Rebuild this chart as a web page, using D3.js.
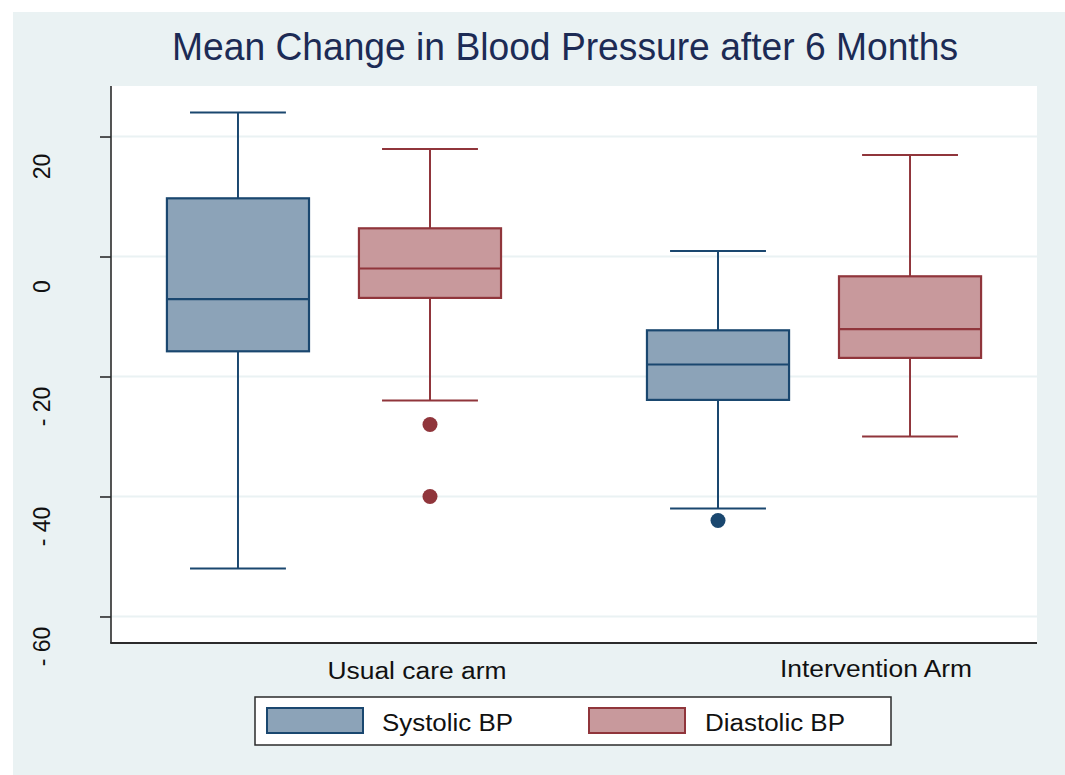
<!DOCTYPE html>
<html>
<head>
<meta charset="utf-8">
<script src="https://cdn.jsdelivr.net/npm/d3@7"></script>
<style>
  html, body { margin: 0; padding: 0; background: #ffffff; }
  svg { display: block; font-family: "Liberation Sans", Arial, Helvetica, sans-serif; }
</style>
</head>
<body>
<svg id="chart" width="1065" height="775"></svg>
<script>
// ---------------- data ----------------
const title = "Mean Change in Blood Pressure after 6 Months";
const categories = ["Usual care arm", "Intervention Arm"];
const seriesNames = ["Systolic BP", "Diastolic BP"];
// five-number summaries per category: [lower whisker, Q1, median, Q3, upper whisker]
const systolicBP = [[-52, -15.8, -7.1, 9.7, 24], [-42, -23.9, -18, -12.3, 0.9]];
const diastolicBP = [[-24, -6.9, -2, 4.7, 17.9], [-30, -16.9, -12.1, -3.3, 16.9]];
const systolicOutliers = [[], [-44]];
const diastolicOutliers = [[-28, -40], []];
const yTicks = [-60, -40, -20, 0, 20];

// ---------------- styling / layout ----------------
const W = 1065, H = 775;
const plot = { left: 111, right: 1037, top: 86, bottom: 643 };
const fills = ["#8ca3b8", "#c8999c"];
const strokes = ["#1a476f", "#90353b"];
const bgColor = "#eaf2f3";
const font = 23;
// category label placement relative to group centre, and target widths (stretched text)
const catLabelOffset = [83, 62];
const catLabelWidth = [179, 192];
const catLabelBaseline = [679, 677];

const svg = d3.select("#chart");

// outer background
svg.append("rect").attr("x", 13).attr("y", 12).attr("width", W - 13).attr("height", H - 12)
  .attr("fill", bgColor);

// plot region
svg.append("rect").attr("x", plot.left).attr("y", plot.top)
  .attr("width", plot.right - plot.left).attr("height", plot.bottom - plot.top)
  .attr("fill", "#ffffff");

// scales
const y = d3.scaleLinear().domain([-64.42, 28.42]).range([plot.bottom, plot.top]);
const x0 = d3.scaleBand().domain(categories).range([plot.left, plot.right])
  .paddingInner(0.304).paddingOuter(0.1165);
const x1 = d3.scaleBand().domain(seriesNames).range([0, x0.bandwidth()])
  .paddingInner(0.26).paddingOuter(0);

// gridlines
svg.append("g").selectAll("line").data(yTicks).join("line")
  .attr("x1", plot.left).attr("x2", plot.right)
  .attr("y1", d => y(d)).attr("y2", d => y(d))
  .attr("stroke", bgColor).attr("stroke-width", 2);

// title
svg.append("text").attr("x", 565).attr("y", 60).attr("text-anchor", "middle")
  .attr("font-size", 38).attr("fill", "#1c2b55")
  .attr("textLength", 786).attr("lengthAdjust", "spacingAndGlyphs")
  .text(title);

// y axis
const yAxis = d3.axisLeft(y).tickValues(yTicks).tickSize(11).tickSizeOuter(0).tickFormat("");
const ga = svg.append("g").attr("transform", `translate(${plot.left},0)`).call(yAxis);
ga.select(".domain").attr("stroke", "#2b2b2b").attr("stroke-width", 1.6)
  .attr("d", `M0,${plot.top}V${plot.bottom}`);
ga.selectAll(".tick line").attr("stroke", "#2b2b2b").attr("stroke-width", 1.6);

// y tick labels (rotated)
svg.append("g").selectAll("text").data(yTicks).join("text")
  .attr("transform", d => `translate(42,${y(d) + 30}) rotate(-90)`)
  .attr("text-anchor", "middle").attr("dominant-baseline", "central")
  .attr("font-size", font).attr("fill", "#111")
  .text(d => d < 0 ? "- " + Math.abs(d) : String(d));

// bottom axis line
svg.append("line").attr("x1", plot.left - 0.8).attr("x2", plot.right)
  .attr("y1", plot.bottom).attr("y2", plot.bottom)
  .attr("stroke", "#2b2b2b").attr("stroke-width", 1.8);

// category labels
svg.append("g").selectAll("text").data(categories).join("text")
  .attr("x", (d, i) => x0(d) + x0.bandwidth() / 2 + catLabelOffset[i])
  .attr("y", (d, i) => catLabelBaseline[i])
  .attr("text-anchor", "middle").attr("font-size", font).attr("fill", "#111")
  .attr("textLength", (d, i) => catLabelWidth[i]).attr("lengthAdjust", "spacingAndGlyphs")
  .text(d => d);

// boxes
const seriesStats = [systolicBP, diastolicBP];
const seriesOut = [systolicOutliers, diastolicOutliers];
const boxes = [];
categories.forEach((c, ci) => {
  seriesNames.forEach((s, si) => {
    boxes.push({ cat: c, series: s, si, stats: seriesStats[si][ci], out: seriesOut[si][ci] });
  });
});

const bw = x1.bandwidth();
const capW = bw * 0.675;
const gBox = svg.append("g");
boxes.forEach(b => {
  const g = gBox.append("g").attr("transform", `translate(${x0(b.cat) + x1(b.series)},0)`);
  const [lo, q1, med, q3, hi] = b.stats;
  const cx = bw / 2;
  const col = strokes[b.si];
  // whiskers
  g.append("line").attr("x1", cx).attr("x2", cx).attr("y1", y(q3)).attr("y2", y(hi))
    .attr("stroke", col).attr("stroke-width", 2);
  g.append("line").attr("x1", cx).attr("x2", cx).attr("y1", y(q1)).attr("y2", y(lo))
    .attr("stroke", col).attr("stroke-width", 2);
  g.append("line").attr("x1", cx - capW / 2).attr("x2", cx + capW / 2).attr("y1", y(hi)).attr("y2", y(hi))
    .attr("stroke", col).attr("stroke-width", 2);
  g.append("line").attr("x1", cx - capW / 2).attr("x2", cx + capW / 2).attr("y1", y(lo)).attr("y2", y(lo))
    .attr("stroke", col).attr("stroke-width", 2);
  // box
  g.append("rect").attr("x", 0).attr("width", bw).attr("y", y(q3)).attr("height", y(q1) - y(q3))
    .attr("fill", fills[b.si]).attr("stroke", col).attr("stroke-width", 2.2);
  g.append("line").attr("x1", 0).attr("x2", bw).attr("y1", y(med)).attr("y2", y(med))
    .attr("stroke", col).attr("stroke-width", 2.2);
  // outliers
  g.selectAll("circle").data(b.out).join("circle")
    .attr("cx", cx).attr("cy", d => y(d)).attr("r", 7.5).attr("fill", col);
});

// legend
const lg = svg.append("g");
lg.append("rect").attr("x", 255).attr("y", 697).attr("width", 636).attr("height", 48)
  .attr("fill", "#ffffff").attr("stroke", "#2b2b2b").attr("stroke-width", 1.5);
const legX = [267, 589];
const legTextX = [382, 705];
const legTextW = [131, 140];
seriesNames.forEach((s, i) => {
  lg.append("rect").attr("x", legX[i]).attr("y", 708).attr("width", 96).attr("height", 25)
    .attr("fill", fills[i]).attr("stroke", strokes[i]).attr("stroke-width", 2);
  lg.append("text").attr("x", legTextX[i]).attr("y", 731).attr("font-size", font).attr("fill", "#111")
    .attr("textLength", legTextW[i]).attr("lengthAdjust", "spacingAndGlyphs")
    .text(s);
});
</script>
</body>
</html>
